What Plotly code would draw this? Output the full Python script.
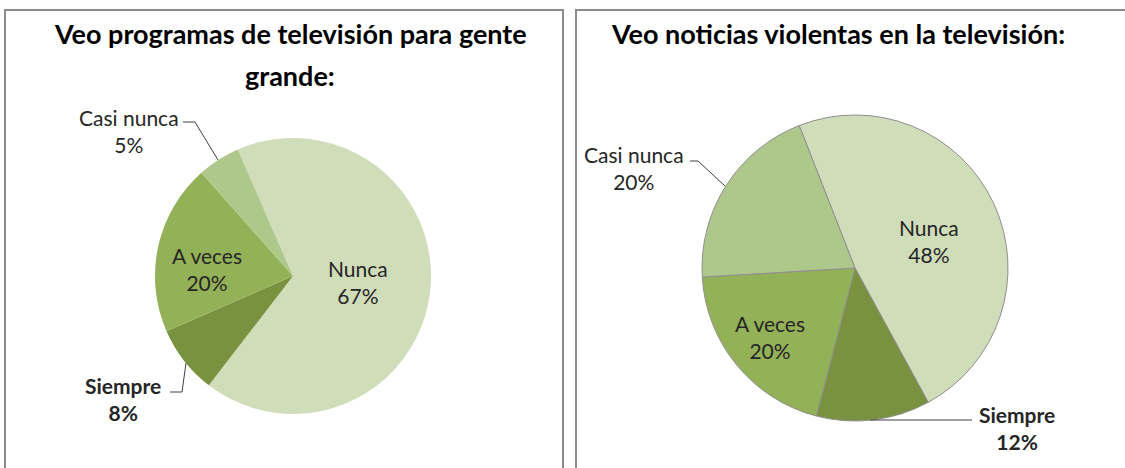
import plotly.graph_objects as go

W, H = 1125, 468

# ---- data ----
categories = ["Nunca", "Siempre", "A veces", "Casi nunca"]
tv_adultos = [67, 8, 20, 5]
noticias_violentas = [48, 12, 20, 20]
title_left = ["Veo programas de televisión para gente", "grande:"]
title_right = ["Veo noticias violentas en la televisión:"]
slice_colors = ["#cfddb9", "#78923f", "#93b157", "#aec78a"]

FONT = "Lato"


def px(x):
    return x / W


def py(y):
    return 1 - y / H


def domain(cx, cy, r):
    return dict(x=[px(cx - r), px(cx + r)], y=[py(cy + r), py(cy - r)])


fig = go.Figure()

fig.add_trace(go.Pie(
    labels=categories, values=tv_adultos, sort=False, direction="clockwise",
    rotation=-23.6, textinfo="none", hoverinfo="label+percent",
    marker=dict(colors=slice_colors, line=dict(width=0)),
    domain=domain(293, 276, 138), showlegend=False,
))
fig.add_trace(go.Pie(
    labels=categories, values=noticias_violentas, sort=False, direction="clockwise",
    rotation=-21.4, textinfo="none", hoverinfo="label+percent",
    marker=dict(colors=slice_colors, line=dict(width=1, color="#8f8f8f")),
    domain=domain(855, 268, 153), showlegend=False,
))

shapes = []
# panel borders
shapes.append(dict(type="rect", xref="paper", yref="paper",
                   x0=px(5), x1=px(563), y0=py(475), y1=py(10),
                   line=dict(color="#8c8c8c", width=2), fillcolor="rgba(0,0,0,0)"))
shapes.append(dict(type="rect", xref="paper", yref="paper",
                   x0=px(576), x1=px(1135), y0=py(475), y1=py(10),
                   line=dict(color="#8c8c8c", width=2), fillcolor="rgba(0,0,0,0)"))


def leader(points):
    d = "M " + " L ".join(f"{px(x)},{py(y)}" for x, y in points)
    shapes.append(dict(type="path", xref="paper", yref="paper", path=d,
                       line=dict(color="#404040", width=1)))


leader([(183, 122), (195, 122), (218, 160)])
leader([(170, 392), (182, 392), (186, 363)])
leader([(690, 161), (698, 161), (725, 186)])
leader([(870, 420), (972, 420)])

annotations = []


def label(text, x, y, size=21, bold=False, color="#262626"):
    t = f"<b>{text}</b>" if bold else text
    annotations.append(dict(text=t, x=px(x), y=py(y), xref="paper", yref="paper",
                            showarrow=False, xanchor="center", yanchor="middle",
                            font=dict(family=FONT, size=size, color=color)))


# titles
label(title_left[0], 290, 34, size=27, bold=True, color="#000")
label(title_left[1], 290, 76, size=27, bold=True, color="#000")
label(title_right[0], 838, 34, size=27, bold=True, color="#000")


# slice labels (text from data)
def txt(i, vals):
    return f"{categories[i]}<br>{vals[i]}%"


# left pie
label(txt(0, tv_adultos), 358, 282)
label(txt(2, tv_adultos), 207, 269)
label(txt(3, tv_adultos), 129, 131)
label(txt(1, tv_adultos), 123, 399, bold=True)
# right pie
label(txt(0, noticias_violentas), 929, 241)
label(txt(2, noticias_violentas), 770, 337)
label(txt(3, noticias_violentas), 634, 168)
label(txt(1, noticias_violentas), 1017, 428, bold=True)

fig.update_layout(
    width=W, height=H, margin=dict(l=0, r=0, t=0, b=0),
    paper_bgcolor="white", plot_bgcolor="white",
    shapes=shapes, annotations=annotations,
    font=dict(family=FONT),
)

fig.write_html("out.html", config={"displayModeBar": False},
               post_script="document.body.style.margin='0';")
